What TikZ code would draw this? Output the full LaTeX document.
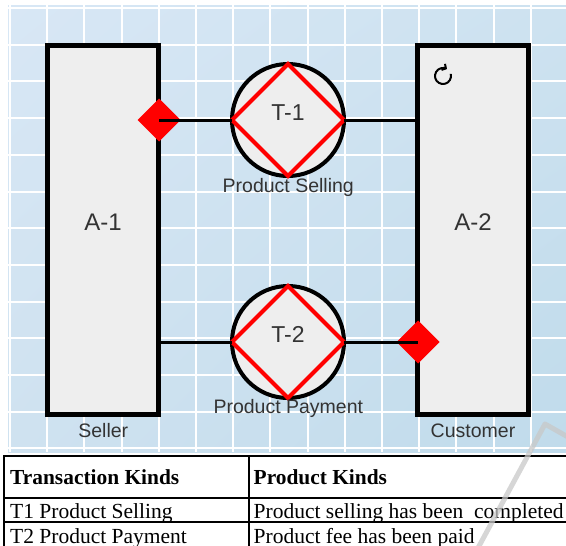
\documentclass[tikz,border=0pt]{standalone}
\usepackage{fontspec}
\newfontfamily\diagfont{Liberation Sans}
\newfontfamily\tabfont{Liberation Serif}
\usetikzlibrary{shapes.geometric,arrows.meta,calc,shadings}

\definecolor{bgUL}{RGB}{216,231,245}
\definecolor{bgUR}{RGB}{205,226,240}
\definecolor{bgLL}{RGB}{207,226,240}
\definecolor{bgLR}{RGB}{192,219,235}
\definecolor{boxfill}{RGB}{238,238,238}
\definecolor{labelgray}{RGB}{51,51,51}
\definecolor{markgray}{RGB}{200,200,200}

\tikzset{
  gridline/.style={white, line width=2pt},
  actorbox/.style={draw=black, line width=5pt, fill=boxfill, rectangle,
    minimum width=111pt, minimum height=369pt, inner sep=0pt, outer sep=0pt},
  txcircle/.style={draw=black, line width=4pt, fill=boxfill, circle,
    minimum size=112pt, inner sep=0pt, outer sep=0pt},
  txdiamond/.style={draw=red, line width=4pt, line join=miter},
  port/.style={diamond, aspect=1, fill=red, inner sep=0pt, outer sep=0pt,
    minimum width=43pt, minimum height=43pt},
  link/.style={draw=black, line width=3pt},
  bigtext/.style={text=labelgray, inner sep=0pt, anchor=base,
    font=\diagfont\fontsize{24}{24}\selectfont},
  txtext/.style={text=labelgray, inner sep=0pt, anchor=base,
    font=\diagfont\fontsize{23}{23}\selectfont},
  smalltext/.style={text=labelgray, inner sep=0pt, anchor=base,
    font=\diagfont\fontsize{19.5}{19.5}\selectfont},
  tableline/.style={black, line width=2pt},
  headcell/.style={inner sep=0pt, anchor=base west,
    font=\tabfont\bfseries\fontsize{21.4}{21.4}\selectfont},
  bodycell/.style={inner sep=0pt, anchor=base west,
    font=\tabfont\fontsize{21.5}{21.5}\selectfont},
}

\begin{document}
\begin{tikzpicture}[x=1pt, y=-1pt]
\useasboundingbox (0,0) rectangle (566,546);

% canvas with a soft blue gradient and a white grid
\shade[upper left=bgUL, upper right=bgUR, lower left=bgLL, lower right=bgLR]
  (8,5) rectangle (566,452);
\foreach \i in {0,...,15}
  \draw[gridline] ({10+37.2*\i},5) -- ({10+37.2*\i},452);
\foreach \j in {0,...,12}
  \draw[gridline] (8,{8+36.7*\j}) -- (566,{8+36.7*\j});

% actors
\node[actorbox] (A1) at (103,230) {};
\node[actorbox] (A2) at (473,230) {};
\node[bigtext] (A1label) at (103,230) {A-1};
\node[bigtext] (A2label) at (473,230) {A-2};
\node[smalltext] (seller) at (103.3,437) {Seller};
\node[smalltext] (customer) at (473,437) {Customer};

% self-activation mark on A-2
\coordinate (rot) at (443,76);
\draw[line width=2pt, -{Straight Barb[length=3pt,width=7pt]}]
  ($(rot)+(-15:8)$) arc[start angle=-15, end angle=300, radius=8];

% transactions
\node[txcircle] (T1) at (288,120) {};
\node[txcircle] (T2) at (288,342) {};
\draw[txdiamond] (T1.north) -- (T1.east) -- (T1.south) -- (T1.west) -- cycle;
\draw[txdiamond] (T2.north) -- (T2.east) -- (T2.south) -- (T2.west) -- cycle;
\node[txtext] (T1label) at (288,120) {T-1};
\node[txtext] (T2label) at (288,342) {T-2};
\node[smalltext] (T1name) at (288.3,192.5) {Product Selling};
\node[smalltext] (T2name) at (288.3,413.5) {Product Payment};

% executor ports and links
\node[port] (P1) at (159,120) {};
\node[port] (P2) at (418,342) {};
\draw[link] (P1.center) -- (T1.west);
\draw[link] (T1.east) -- (A2.west |- T1.east);
\draw[link] (A1.east |- T2.west) -- (T2.west);
\draw[link] (T2.east) -- (P2.center);

% table of transaction kinds
\draw[tableline] (4.3,456.3) -- (566,456.3);
\draw[tableline] (4.3,497.7) -- (566,497.7);
\draw[tableline] (4.3,522) -- (566,522);
\draw[tableline] (4.3,455.3) -- (4.3,546);
\draw[tableline] (248.7,455.3) -- (248.7,546);
\node[headcell] (h1) at (10,484) {Transaction Kinds};
\node[headcell] (h2) at (253.5,484) {Product Kinds};
\node[bodycell] (r1a) at (10,518) {T1 Product Selling};
\node[bodycell] (r1b) at (253.5,518) {Product selling has been\ \ completed};
\node[bodycell] (r2a) at (10,543) {T2 Product Payment};
\node[bodycell] (r2b) at (253.5,543) {Product fee has been paid};

% faint watermark stroke
\draw[markgray, line width=5pt, opacity=0.75, line join=round]
  (478,548) -- (545,424) -- (568,437);
\end{tikzpicture}
\end{document}
